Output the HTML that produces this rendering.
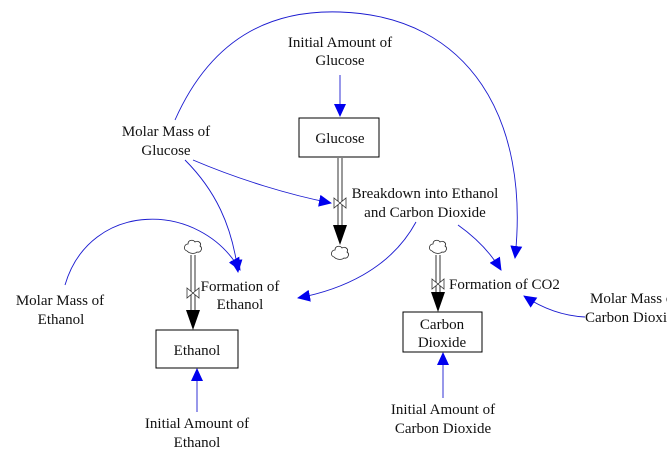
<!DOCTYPE html>
<html><head><style>
body{margin:0;background:#fff;}
svg{display:block;}
text{font-family:"Liberation Serif",serif;font-size:15px;fill:#111;}
</style></head><body>
<svg width="667" height="469" viewBox="0 0 667 469" xmlns="http://www.w3.org/2000/svg">
<defs>
<marker id="a" markerWidth="13" markerHeight="12" refX="12" refY="6" orient="auto" markerUnits="userSpaceOnUse"><path d="M0,0 L13,6 L0,12 z" fill="#0000ee"/></marker>
<g id="cloud"><path d="M-6,4 C-10,3 -9,-3 -5,-3 C-5,-7 0,-8 2,-5 C5,-7 9,-4 7,-1 C10,1 8,6 4,5 C2,7 -3,7 -6,4 z" fill="#fff" stroke="#222" stroke-width="0.8"/></g>
<g id="valve"><path d="M-6,-5 L6,5 L6,-5 L-6,5 z" fill="#fff" stroke="#333" stroke-width="0.8"/></g>
</defs>
<g fill="none" stroke="#1a1ad0" stroke-width="0.9">
<path d="M340,75 L340,116" marker-end="url(#a)"/>
<path d="M175,120 C215,30 280,10 340,12 C470,16 530,120 515,258" marker-end="url(#a)"/>
<path d="M193,160 C240,180 290,195 331,203" marker-end="url(#a)"/>
<path d="M185,160 C215,190 232,225 238,272" marker-end="url(#a)"/>
<path d="M65,285 C90,200 200,200 240,270" marker-end="url(#a)"/>
<path d="M416,222 C390,270 340,290 298,298" marker-end="url(#a)"/>
<path d="M458,225 C475,237 490,252 501,270" marker-end="url(#a)"/>
<path d="M585,317 C565,316 545,310 524,296" marker-end="url(#a)"/>
<path d="M197,412 L197,369" marker-end="url(#a)"/>
<path d="M443,398 L443,353" marker-end="url(#a)"/>
</g>
<g stroke="#333" stroke-width="1">
<line x1="338" y1="158" x2="338" y2="228"/><line x1="342" y1="158" x2="342" y2="228"/>
<line x1="191" y1="255" x2="191" y2="312"/><line x1="195" y1="255" x2="195" y2="312"/>
<line x1="436" y1="255" x2="436" y2="293"/><line x1="440" y1="255" x2="440" y2="293"/>
</g>
<path d="M333,225 L347,225 L340,245 z" fill="#000"/>
<path d="M186,310 L200,310 L193,330 z" fill="#000"/>
<path d="M431,292 L445,292 L438,312 z" fill="#000"/>
<use href="#valve" x="340" y="203"/>
<use href="#valve" x="193" y="293"/>
<use href="#valve" x="438" y="284"/>
<use href="#cloud" x="340" y="253"/>
<use href="#cloud" x="193" y="247"/>
<use href="#cloud" x="438" y="247"/>
<rect x="299" y="118" width="80" height="39" fill="#fff" stroke="#000"/>
<rect x="156" y="330" width="82" height="38" fill="#fff" stroke="#000"/>
<rect x="403" y="312" width="79" height="40" fill="#fff" stroke="#000"/>
<g text-anchor="middle">
<text x="340" y="47">Initial Amount of</text><text x="340" y="65">Glucose</text>
<text x="340" y="143">Glucose</text>
<text x="166" y="136">Molar Mass of</text><text x="166" y="155">Glucose</text>
<text x="60" y="305">Molar Mass of</text><text x="61" y="324">Ethanol</text>
<text x="240" y="291">Formation of</text><text x="240" y="309">Ethanol</text>
<text x="197" y="355">Ethanol</text>
<text x="197" y="428">Initial Amount of</text><text x="197" y="447">Ethanol</text>
<text x="442" y="329">Carbon</text><text x="442" y="347">Dioxide</text>
<text x="443" y="414">Initial Amount of</text><text x="443" y="433">Carbon Dioxide</text>
<text x="425" y="198">Breakdown into Ethanol</text><text x="425" y="217">and Carbon Dioxide</text>
</g>
<text x="449" y="289">Formation of CO2</text>
<text x="590" y="303">Molar Mass of</text><text x="585" y="322">Carbon Dioxide</text>
</svg>
</body></html>
